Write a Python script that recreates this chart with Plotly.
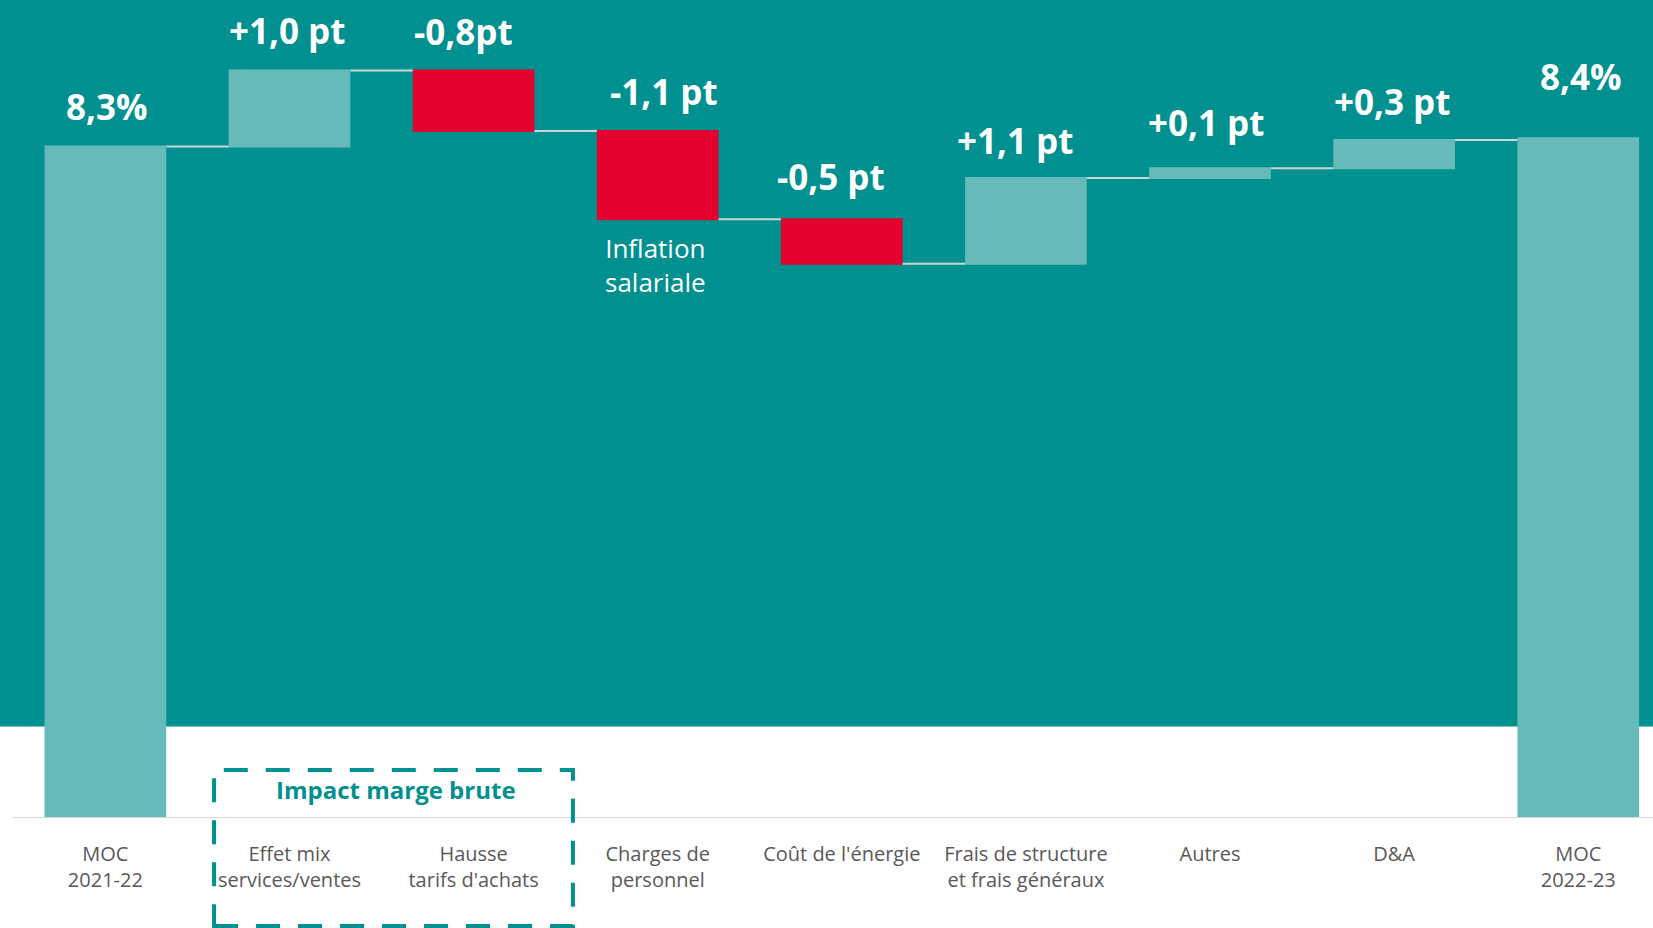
import plotly.graph_objects as go

# ---------------- data ----------------
categories = ["MOC<br>2021-22", "Effet mix<br>services/ventes", "Hausse<br>tarifs d'achats",
              "Charges de<br>personnel", "Coût de l'énergie", "Frais de structure<br>et frais généraux",
              "Autres", "D&A", "MOC<br>2022-23"]
measures = ["absolute", "relative", "relative", "relative", "relative",
            "relative", "relative", "relative", "absolute"]
values = [8.30, 0.94, -0.75, -1.09, -0.55, 1.06, 0.12, 0.35, 8.40]
value_labels = ["8,3%", "+1,0 pt", "-0,8pt", "-1,1 pt", "-0,5 pt",
                "+1,1 pt", "+0,1 pt", "+0,3 pt", "8,4%"]
note_category = "Charges de<br>personnel"
note_text = "Inflation<br>salariale"
group_title = "Impact marge brute"

# ---------------- style ----------------
TEAL_BG = "#00908F"
LIGHT = "#66BBBA"
RED = "#E2012F"
LABEL_YSHIFT = [40, 40, 39, 40, 43, 38, 46, 38, 62]
LABEL_XSHIFT = [2, -3, -10, 6, -11, -11, -4, -2, 3]
FONT = "Open Sans"

# cumulative levels (for label placement)
tops, bottoms = [], []
level = 0.0
for m, v in zip(measures, values):
    if m == "absolute":
        start, end = 0.0, v
    else:
        start, end = level, level + v
    level = end
    tops.append(max(start, end))
    bottoms.append(min(start, end))

fig = go.Figure()
fig.add_trace(go.Waterfall(
    x=categories, y=values, measure=measures,
    increasing=dict(marker=dict(color=LIGHT, line=dict(width=0))),
    decreasing=dict(marker=dict(color=RED, line=dict(width=0))),
    totals=dict(marker=dict(color=LIGHT, line=dict(width=0))),
    connector=dict(mode="between", line=dict(color="#C9D6D6", width=2)),
    hoverinfo="skip", textinfo="none", showlegend=False,
))

ann = []
for c, t, lab, sy, sx in zip(categories, tops, value_labels, LABEL_YSHIFT, LABEL_XSHIFT):
    ann.append(dict(x=c, y=t, xref="x", yref="y", text=lab, showarrow=False,
                    yshift=sy, xshift=sx, yanchor="middle", xanchor="center",
                    font=dict(family=FONT, size=35, color="white", weight="bold")))
ni = categories.index(note_category)
ann.append(dict(x=note_category, y=bottoms[ni], xref="x", yref="y", text=note_text,
                showarrow=False, yshift=-46, xshift=-2, yanchor="middle", xanchor="center",
                font=dict(family=FONT, size=26, color="white")))
ann.append(dict(x=0.2393, y=0.035, xref="paper", yref="paper", text=group_title,
                showarrow=False, yanchor="middle", xanchor="center",
                font=dict(family=FONT, size=24, color=TEAL_BG, weight="bold")))

shapes = [
    dict(type="rect", xref="paper", yref="paper", x0=0, x1=1, y0=0.112, y1=1,
         fillcolor=TEAL_BG, line=dict(width=0), layer="below"),
    dict(type="line", xref="paper", yref="y", x0=0.0076, x1=1, y0=0, y1=0,
         line=dict(color="#D9D9D9", width=2), layer="above"),
    dict(type="rect", xref="paper", yref="paper", x0=0.1295, x1=0.3466, y0=-0.132, y1=0.0587,
         line=dict(color=TEAL_BG, width=4, dash="24px,18px"), fillcolor="rgba(0,0,0,0)"),
]

fig.update_layout(
    width=1653, height=928,
    margin=dict(l=0, r=0, t=0, b=110, pad=0),
    paper_bgcolor="white", plot_bgcolor="white",
    waterfallgap=0.339,
    xaxis=dict(range=[-0.5725, 8.406], showgrid=False, zeroline=False, showline=False,
               ticks="", ticklabelstandoff=22,
               tickfont=dict(family=FONT, size=20, color="#595959")),
    yaxis=dict(range=[0, 10.11], visible=False),
    annotations=ann, shapes=shapes,
)

fig.write_html("out.html", config={"displayModeBar": False},
               post_script="document.body.style.margin='0';document.body.style.overflow='hidden';")
